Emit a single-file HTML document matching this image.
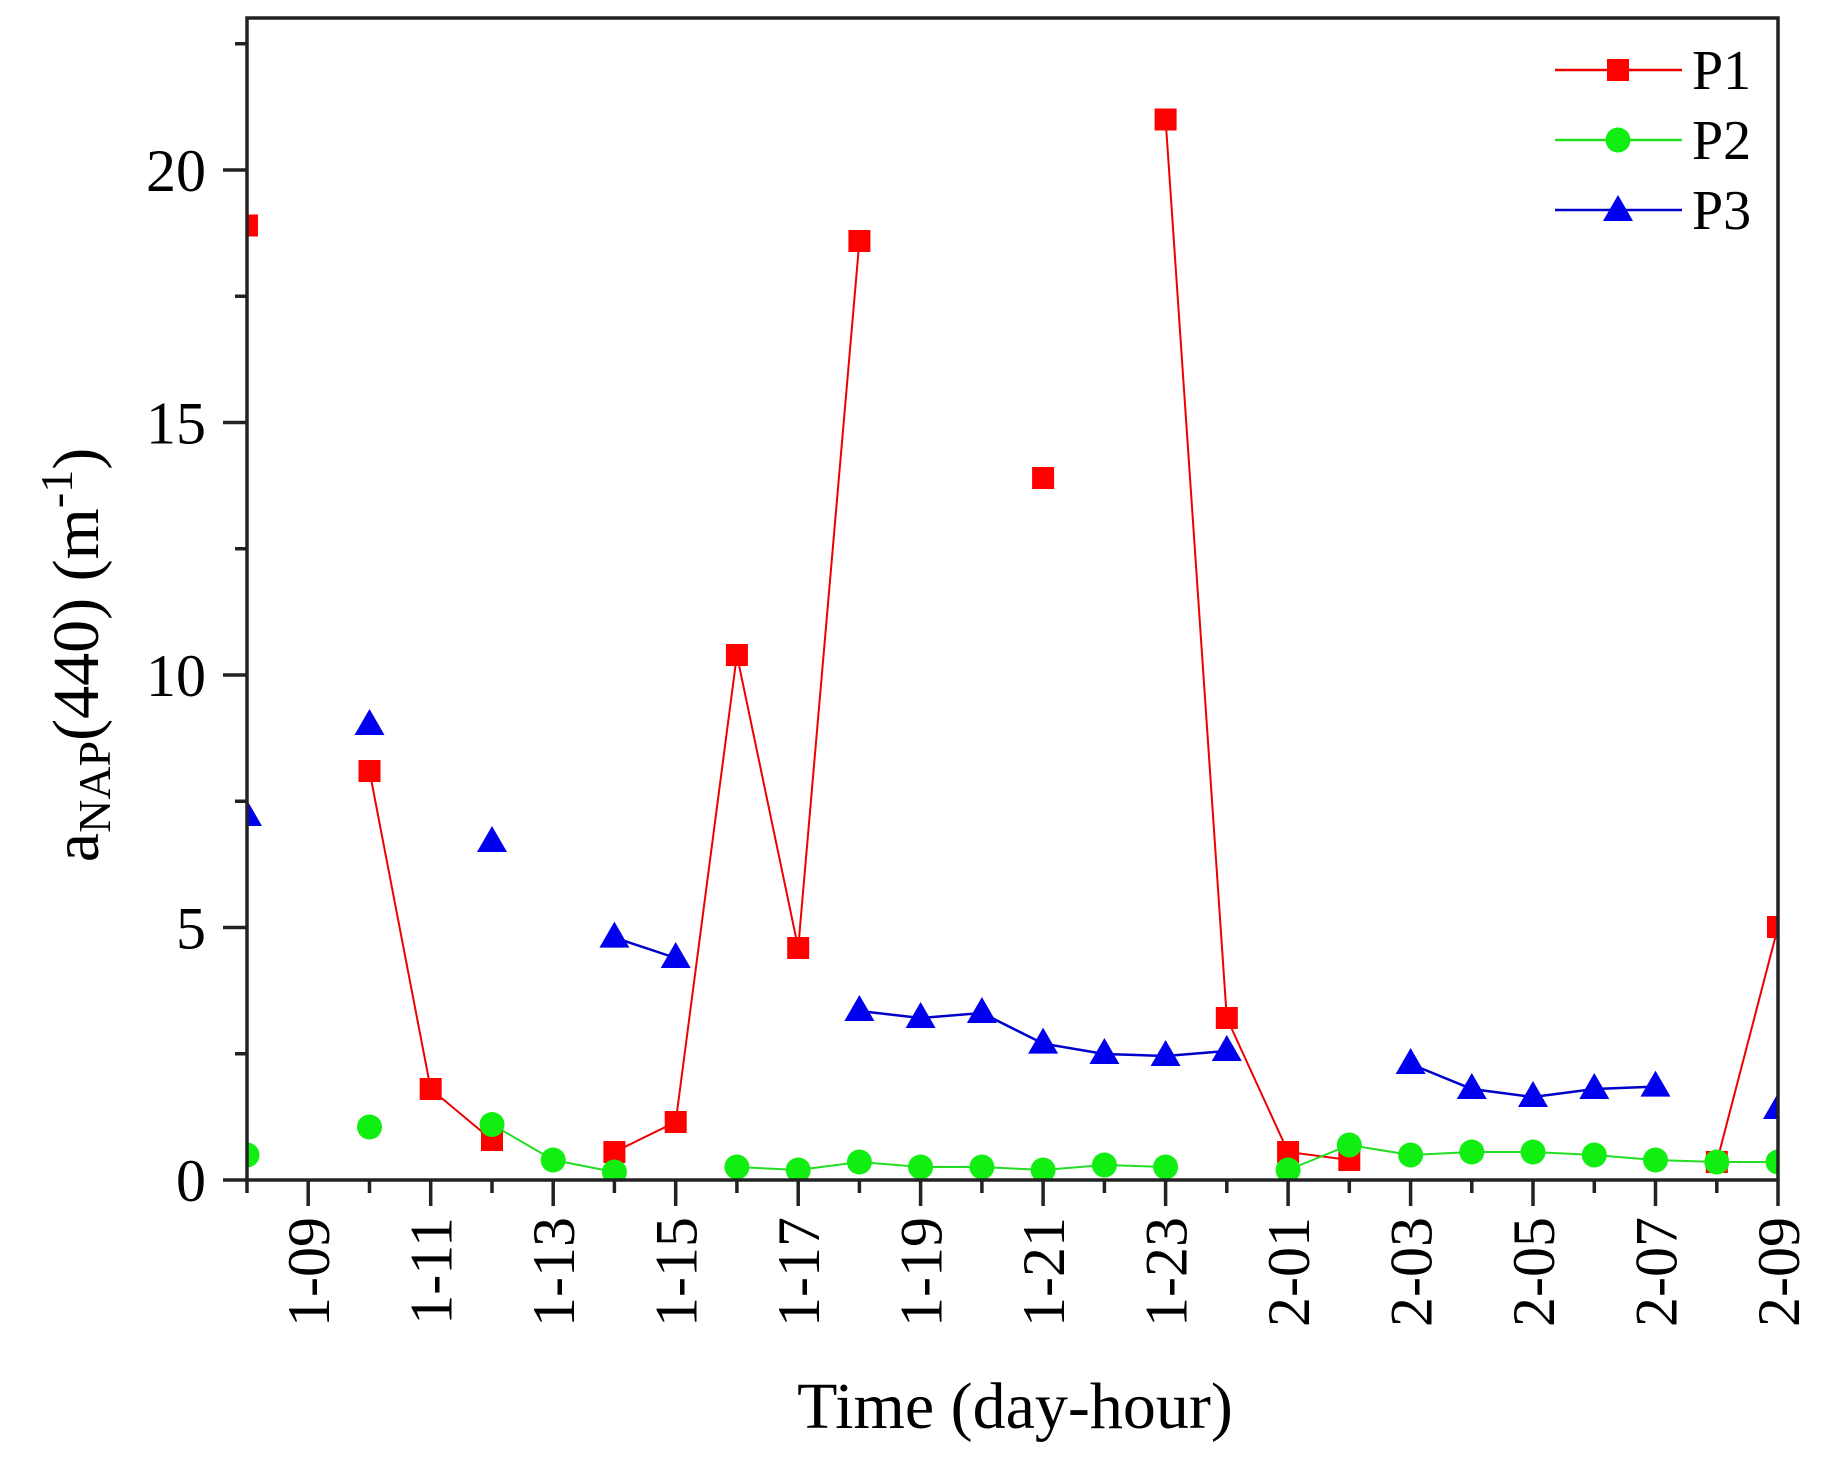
<!DOCTYPE html>
<html><head><meta charset="utf-8"><style>
html,body{margin:0;padding:0;background:#fff;}
svg{display:block;}
text{font-family:"Liberation Serif",serif;fill:#000;}
</style></head><body>
<svg width="1821" height="1458" viewBox="0 0 1821 1458" xmlns="http://www.w3.org/2000/svg">
<defs><clipPath id="c"><rect x="247" y="18" width="1531" height="1162"/></clipPath></defs>
<g clip-path="url(#c)">
<!-- P1 lines -->
<g fill="none" stroke="#e00" stroke-width="2">
<polyline points="369.5,771 430.7,1089 492,1140"/>
<polyline points="614.4,1152 675.7,1122 736.9,655 798.2,948 859.4,241"/>
<polyline points="1165.6,119.5 1226.8,1018 1288.1,1152 1349.3,1160"/>
<polyline points="1716.8,1162 1778,927"/>
</g>
<!-- P3 lines -->
<g fill="none" stroke="#00c" stroke-width="2.5">
<polyline points="614.4,937.6 675.7,958"/>
<polyline points="859.4,1011 920.6,1018 981.9,1013 1043.1,1043.6 1104.4,1054 1165.6,1056 1226.8,1051"/>
<polyline points="1410.6,1064 1471.8,1089 1533,1097 1594.3,1089 1655.5,1086.6"/>
</g>
<!-- P2 lines -->
<g fill="none" stroke="#2d2" stroke-width="2">
<polyline points="492,1124.5 553.2,1160 614.4,1172"/>
<polyline points="736.9,1167 798.2,1170 859.4,1162 920.6,1167 981.9,1167 1043.1,1170 1104.4,1165 1165.6,1167"/>
<polyline points="1288.1,1170 1349.3,1145 1410.6,1155 1471.8,1152 1533,1152 1594.3,1155 1655.5,1160 1716.8,1162 1778,1162"/>
</g>
<!-- P1 markers -->
<g fill="#f00">
<rect x="236" y="214.5" width="22" height="22"/>
<rect x="358.5" y="760" width="22" height="22"/>
<rect x="419.7" y="1078" width="22" height="22"/>
<rect x="481" y="1129" width="22" height="22"/>
<rect x="603.4" y="1141" width="22" height="22"/>
<rect x="664.7" y="1111" width="22" height="22"/>
<rect x="725.9" y="644" width="22" height="22"/>
<rect x="787.2" y="937" width="22" height="22"/>
<rect x="848.4" y="230" width="22" height="22"/>
<rect x="1032.1" y="467" width="22" height="22"/>
<rect x="1154.6" y="108.5" width="22" height="22"/>
<rect x="1215.8" y="1007" width="22" height="22"/>
<rect x="1277.1" y="1141" width="22" height="22"/>
<rect x="1338.3" y="1149" width="22" height="22"/>
<rect x="1705.8" y="1151" width="22" height="22"/>
<rect x="1767" y="916" width="22" height="22"/>
</g>
<!-- P2 markers -->
<g fill="#1e1">
<circle cx="247" cy="1155" r="12.5"/>
<circle cx="369.5" cy="1127" r="12.5"/>
<circle cx="492" cy="1124.5" r="12.5"/>
<circle cx="553.2" cy="1160" r="12.5"/>
<circle cx="614.4" cy="1172" r="12.5"/>
<circle cx="736.9" cy="1167" r="12.5"/>
<circle cx="798.2" cy="1170" r="12.5"/>
<circle cx="859.4" cy="1162" r="12.5"/>
<circle cx="920.6" cy="1167" r="12.5"/>
<circle cx="981.9" cy="1167" r="12.5"/>
<circle cx="1043.1" cy="1170" r="12.5"/>
<circle cx="1104.4" cy="1165" r="12.5"/>
<circle cx="1165.6" cy="1167" r="12.5"/>
<circle cx="1288.1" cy="1170" r="12.5"/>
<circle cx="1349.3" cy="1145" r="12.5"/>
<circle cx="1410.6" cy="1155" r="12.5"/>
<circle cx="1471.8" cy="1152" r="12.5"/>
<circle cx="1533" cy="1152" r="12.5"/>
<circle cx="1594.3" cy="1155" r="12.5"/>
<circle cx="1655.5" cy="1160" r="12.5"/>
<circle cx="1716.8" cy="1162" r="12.5"/>
<circle cx="1778" cy="1162" r="12.5"/>
</g>
<!-- P3 markers -->
<g fill="#00e">
<polygon points="247,800 232,826 262,826"/>
<polygon points="369.5,709 354.5,735 384.5,735"/>
<polygon points="492,826 477,852 507,852"/>
<polygon points="614.4,921.6 599.4,947.6 629.4,947.6"/>
<polygon points="675.7,942 660.7,968 690.7,968"/>
<polygon points="859.4,995 844.4,1021 874.4,1021"/>
<polygon points="920.6,1002 905.6,1028 935.6,1028"/>
<polygon points="981.9,997 966.9,1023 996.9,1023"/>
<polygon points="1043.1,1027.6 1028.1,1053.6 1058.1,1053.6"/>
<polygon points="1104.4,1038 1089.4,1064 1119.4,1064"/>
<polygon points="1165.6,1040 1150.6,1066 1180.6,1066"/>
<polygon points="1226.8,1035 1211.8,1061 1241.8,1061"/>
<polygon points="1410.6,1048 1395.6,1074 1425.6,1074"/>
<polygon points="1471.8,1073 1456.8,1099 1486.8,1099"/>
<polygon points="1533,1081 1518,1107 1548,1107"/>
<polygon points="1594.3,1073 1579.3,1099 1609.3,1099"/>
<polygon points="1655.5,1070.6 1640.5,1096.6 1670.5,1096.6"/>
<polygon points="1778,1093 1763,1119 1793,1119"/>
</g>
</g>
<!-- frame -->
<rect x="247" y="18" width="1531" height="1162" fill="none" stroke="#222" stroke-width="3.5"/>
<!-- y ticks -->
<g stroke="#222" stroke-width="3.5">
<line x1="223" y1="1180" x2="247" y2="1180"/><line x1="223" y1="927.5" x2="247" y2="927.5"/>
<line x1="223" y1="675" x2="247" y2="675"/><line x1="223" y1="422.5" x2="247" y2="422.5"/>
<line x1="223" y1="170" x2="247" y2="170"/>
<line x1="235" y1="1053.75" x2="247" y2="1053.75"/><line x1="235" y1="801.25" x2="247" y2="801.25"/>
<line x1="235" y1="548.75" x2="247" y2="548.75"/><line x1="235" y1="296.25" x2="247" y2="296.25"/>
<line x1="235" y1="43.75" x2="247" y2="43.75"/>
</g>
<!-- x ticks -->
<g stroke="#222" stroke-width="3.5">
<line x1="247" y1="1180" x2="247" y2="1193"/>
<line x1="308.2" y1="1180" x2="308.2" y2="1206"/><line x1="369.5" y1="1180" x2="369.5" y2="1193"/>
<line x1="430.7" y1="1180" x2="430.7" y2="1206"/><line x1="492" y1="1180" x2="492" y2="1193"/>
<line x1="553.2" y1="1180" x2="553.2" y2="1206"/><line x1="614.4" y1="1180" x2="614.4" y2="1193"/>
<line x1="675.7" y1="1180" x2="675.7" y2="1206"/><line x1="736.9" y1="1180" x2="736.9" y2="1193"/>
<line x1="798.2" y1="1180" x2="798.2" y2="1206"/><line x1="859.4" y1="1180" x2="859.4" y2="1193"/>
<line x1="920.6" y1="1180" x2="920.6" y2="1206"/><line x1="981.9" y1="1180" x2="981.9" y2="1193"/>
<line x1="1043.1" y1="1180" x2="1043.1" y2="1206"/><line x1="1104.4" y1="1180" x2="1104.4" y2="1193"/>
<line x1="1165.6" y1="1180" x2="1165.6" y2="1206"/><line x1="1226.8" y1="1180" x2="1226.8" y2="1193"/>
<line x1="1288.1" y1="1180" x2="1288.1" y2="1206"/><line x1="1349.3" y1="1180" x2="1349.3" y2="1193"/>
<line x1="1410.6" y1="1180" x2="1410.6" y2="1206"/><line x1="1471.8" y1="1180" x2="1471.8" y2="1193"/>
<line x1="1533" y1="1180" x2="1533" y2="1206"/><line x1="1594.3" y1="1180" x2="1594.3" y2="1193"/>
<line x1="1655.5" y1="1180" x2="1655.5" y2="1206"/><line x1="1716.8" y1="1180" x2="1716.8" y2="1193"/>
<line x1="1778" y1="1180" x2="1778" y2="1206"/>
</g>
<!-- y labels -->
<g font-size="60" text-anchor="end">
<text x="206" y="1201">0</text>
<text x="206" y="948.5">5</text>
<text x="206" y="696">10</text>
<text x="206" y="443.5">15</text>
<text x="206" y="191">20</text>
</g>
<!-- x labels -->
<g font-size="60" text-anchor="end">
<text transform="translate(329,1217) rotate(-90)">1-09</text>
<text transform="translate(451.5,1217) rotate(-90)">1-11</text>
<text transform="translate(574,1217) rotate(-90)">1-13</text>
<text transform="translate(696.5,1217) rotate(-90)">1-15</text>
<text transform="translate(819,1217) rotate(-90)">1-17</text>
<text transform="translate(941.5,1217) rotate(-90)">1-19</text>
<text transform="translate(1064,1217) rotate(-90)">1-21</text>
<text transform="translate(1186.5,1217) rotate(-90)">1-23</text>
<text transform="translate(1309,1217) rotate(-90)">2-01</text>
<text transform="translate(1431.5,1217) rotate(-90)">2-03</text>
<text transform="translate(1554,1217) rotate(-90)">2-05</text>
<text transform="translate(1676.5,1217) rotate(-90)">2-07</text>
<text transform="translate(1799,1217) rotate(-90)">2-09</text>
</g>
<!-- axis titles -->
<text x="1015" y="1428" font-size="66" text-anchor="middle">Time (day-hour)</text>
<text transform="translate(98,655) rotate(-90)" font-size="66" text-anchor="middle">a<tspan font-size="46" dy="12">NAP</tspan><tspan dy="-12">(440) (m</tspan><tspan font-size="46" dy="-26">-1</tspan><tspan dy="26">)</tspan></text>
<!-- legend -->
<g stroke-width="2.5">
<line x1="1555" y1="70" x2="1682" y2="70" stroke="#e00"/>
<line x1="1555" y1="140" x2="1682" y2="140" stroke="#2d2"/>
<line x1="1555" y1="210" x2="1682" y2="210" stroke="#00c"/>
</g>
<rect x="1607" y="59" width="22" height="22" fill="#f00"/>
<circle cx="1618" cy="140" r="12.5" fill="#1e1"/>
<polygon points="1618,195 1603,221 1633,221" fill="#00e"/>
<g font-size="56">
<text x="1692" y="89">P1</text>
<text x="1692" y="159">P2</text>
<text x="1692" y="229">P3</text>
</g>
</svg>
</body></html>
